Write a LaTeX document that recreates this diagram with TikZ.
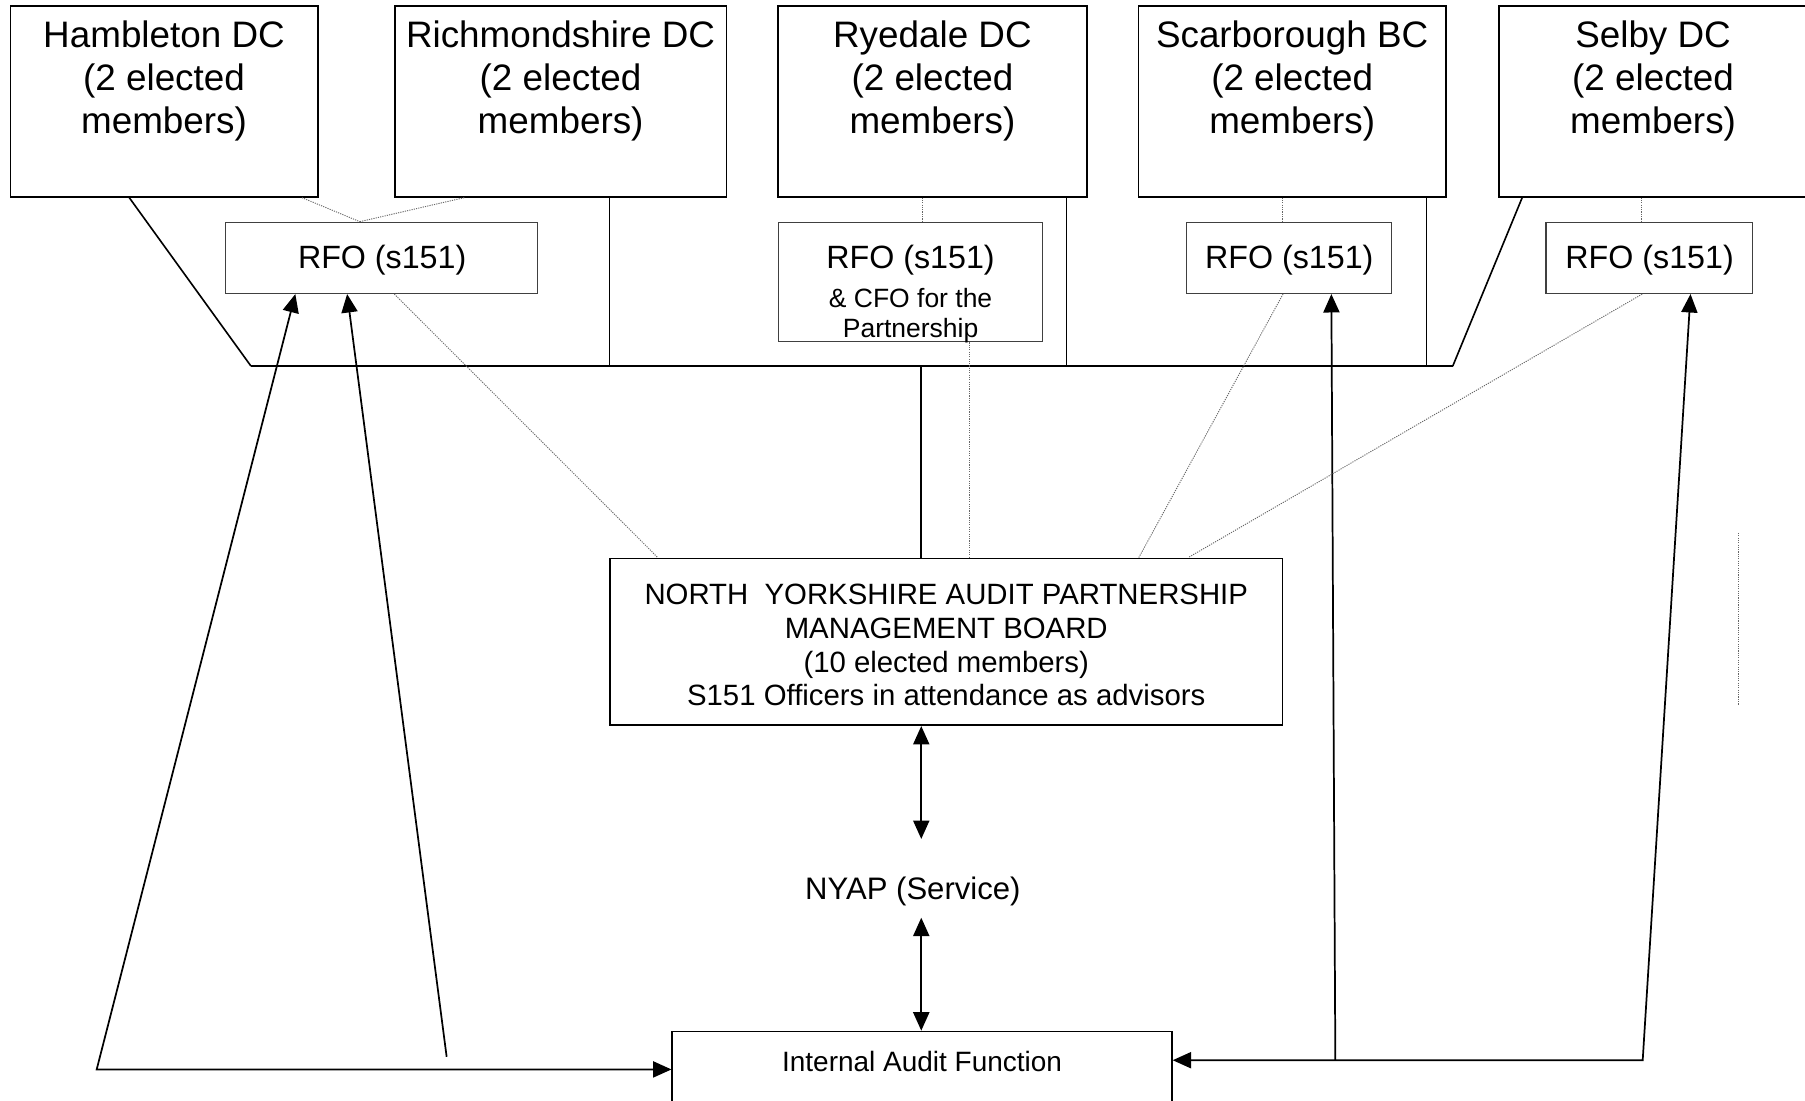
\documentclass[tikz,border=0pt]{standalone}
\usepackage{fontspec}
\setmainfont{Liberation Sans}
\usetikzlibrary{arrows.meta,calc}
\begin{document}
\begin{tikzpicture}[x=1pt,y=-1pt]
\tikzset{
 topbox/.style={draw, line width=1.4pt, inner sep=0pt, minimum height=166pt},
 rfobox/.style={draw=black!75, line width=0.9pt, inner sep=0pt},
 bigbox/.style={draw, line width=1.4pt, inner sep=0pt},
 toptext/.style={align=center, font=\fontsize{32}{37.5}\selectfont, inner sep=0pt},
 rfotext/.style={font=\fontsize{28}{32}\selectfont, inner sep=0pt},
 cfotext/.style={align=center, font=\fontsize{23}{26}\selectfont, inner sep=0pt},
 boardtext/.style={align=center, font=\fontsize{25.5}{29.3}\selectfont, inner sep=0pt},
 plaintext/.style={font=\fontsize{27}{31}\selectfont, inner sep=0pt},
 iaftext/.style={font=\fontsize{24.3}{28}\selectfont, inner sep=0pt},
 link/.style={line width=1.4pt},
 bus/.style={line width=2pt},
 dotlink/.style={draw=black!60, line width=0.8pt, dash pattern=on 1pt off 1pt},
 arr/.style={line width=1.5pt, -{Triangle[length=16pt,width=14pt]}},
 biarr/.style={line width=1.5pt, {Triangle[length=16pt,width=14pt]}-{Triangle[length=16pt,width=14pt]}},
}
\useasboundingbox (0,0) rectangle (1568,956);
\fill[white] (0,0) rectangle (1568,956);

% top boxes
\node[topbox, minimum width=267pt] (ham)  at (142.5,88) {};
\node[topbox, minimum width=288pt] (rich) at (487,88) {};
\node[topbox, minimum width=268pt] (rye)  at (810,88) {};
\node[topbox, minimum width=267pt] (scar) at (1122.5,88) {};
\node[topbox, minimum width=268pt] (sel)  at (1436,88) {};
\node[toptext] (hamt)  at (142.5,70.5) {Hambleton DC\\(2 elected\\members)};
\node[toptext] (richt) at (487,70.5) {Richmondshire DC\\(2 elected\\members)};
\node[toptext] (ryet)  at (810,70.5) {Ryedale DC\\(2 elected\\members)};
\node[toptext] (scart) at (1122.5,70.5) {Scarborough BC\\(2 elected\\members)};
\node[toptext] (selt)  at (1436,70.5) {Selby DC\\(2 elected\\members)};

% RFO boxes
\node[rfobox, minimum width=271pt, minimum height=62pt] (rfo1) at (331.5,224) {};
\node[rfobox, minimum width=230pt, minimum height=104pt] (rfo2) at (791,245) {};
\node[rfobox, minimum width=178pt, minimum height=62pt] (rfo3) at (1120,224) {};
\node[rfobox, minimum width=179pt, minimum height=62pt] (rfo4) at (1432.5,224) {};
\node[rfotext] (rfo1t) at (332,226) {RFO (s151)};
\node[rfotext] (rfo2t) at (791,226) {RFO (s151)};
\node[cfotext] (rfo2c) at (791,274.5) {\&\ CFO for the\\Partnership};
\node[rfotext] (rfo3t) at (1120,226) {RFO (s151)};
\node[rfotext] (rfo4t) at (1433,226) {RFO (s151)};

% board, service, internal audit
\node[bigbox, minimum width=584pt, minimum height=145pt] (board) at (822,557.5) {};
\node[boardtext] (boardt) at (822,560.5) {NORTH\ \ YORKSHIRE AUDIT PARTNERSHIP\\MANAGEMENT BOARD\\(10 elected members)\\S151 Officers in attendance as advisors};
\node[plaintext, minimum height=68pt] (nyap) at (793,774) {NYAP (Service)};
\node[bigbox, minimum width=434pt, minimum height=84pt] (iaf) at (801,938) {};
\node[iaftext] (iaft) at (801,922) {Internal Audit Function};

% bus
\coordinate (busL) at (218,318);
\coordinate (busR) at (1262,318);
\draw[bus] (busL) -- (busR);
\draw[link] ([xshift=104pt]ham.south west) -- (busL);
\coordinate (richB) at ([xshift=187pt]rich.south west);
\draw[link] (richB) -- (richB |- busL);
\coordinate (ryeB) at ([xshift=251pt]rye.south west);
\draw[link] (ryeB) -- (ryeB |- busL);
\coordinate (scarB) at ([xshift=251pt]scar.south west);
\draw[link] (scarB) -- (scarB |- busL);
\draw[link] ([xshift=21pt]sel.south west) -- (busR);
\coordinate (bdTop) at ([xshift=271pt]board.north west);
\draw[link] (bdTop) -- (bdTop |- busL);

% service arrows
\draw[biarr] (board.south -| bdTop) -- ($(nyap.north -| bdTop)+(0,-11)$);
\draw[biarr] ($(nyap.south -| bdTop)+(0,-11)$) -- (iaf.north -| bdTop);

% reporting arrows
\coordinate (bl) at (84,929);
\coordinate (bl2) at (388,918);
\coordinate (br) at (1427,921);
\coordinate (br2) at (1160,921);
\draw[biarr] ([xshift=61pt]rfo1.south west) -- (bl) -- (bl -| iaf.west);
\draw[arr] (bl2) -- ([xshift=106pt]rfo1.south west);
\draw[biarr] (br -| iaf.east) -- (br) -- ([xshift=126pt]rfo4.south west);
\draw[arr] (br2) -- ([xshift=126pt]rfo3.south west);

% dotted links
\draw[dotlink] ([xshift=254pt]ham.south west) -- ([xshift=117pt]rfo1.north west);
\draw[dotlink] ([xshift=61pt]rich.south west) -- ([xshift=117pt]rfo1.north west);
\draw[dotlink] ([xshift=147pt]rfo1.south west) -- ([xshift=42pt]board.north west);
\coordinate (ryeD) at ([xshift=126pt]rye.south west);
\draw[dotlink] (ryeD) -- (ryeD |- rfo2.north);
\coordinate (rfo2D) at ([xshift=167pt]rfo2.south west);
\draw[dotlink] (rfo2D) -- (rfo2D |- board.north);
\coordinate (scarD) at ([xshift=126pt]scar.south west);
\draw[dotlink] (scarD) -- (scarD |- rfo3.north);
\draw[dotlink] ([xshift=84pt]rfo3.south west) -- ([xshift=460pt]board.north west);
\coordinate (selD) at ([xshift=125pt]sel.south west);
\draw[dotlink] (selD) -- (selD |- rfo4.north);
\draw[dotlink] ([xshift=84pt]rfo4.south west) -- ([xshift=503pt]board.north west);
\coordinate (strayA) at (1510,463);
\coordinate (strayB) at (1510,612);
\draw[dotlink] (strayA) -- (strayB);
\end{tikzpicture}
\end{document}
